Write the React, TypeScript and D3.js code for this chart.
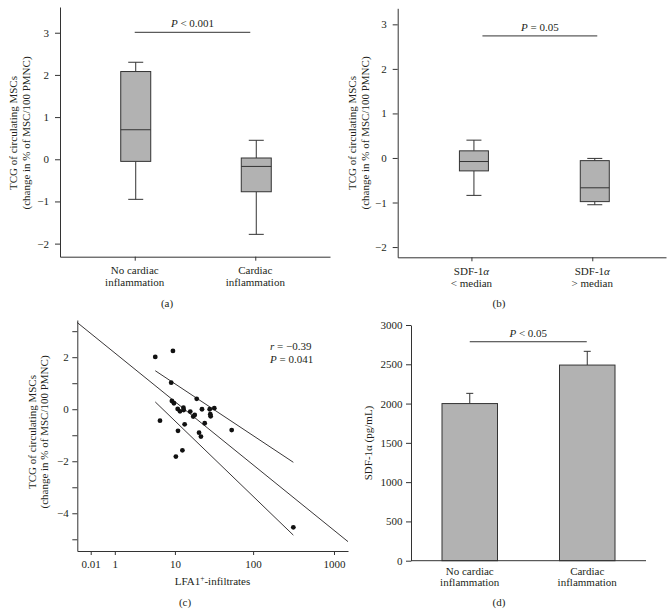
import React, { useEffect, useRef } from "react";
import * as d3 from "d3";

// ---------- Panel (a) ----------
const groupsA = ["No cardiac|inflammation", "Cardiac|inflammation"];
const whiskerLowA = [-0.95, -1.78];
const q1A = [-0.05, -0.77];
const medianA = [0.7, -0.17];
const q3A = [2.08, 0.03];
const whiskerHighA = [2.3, 0.45];
const yTicksA = [-2, -1, 0, 1, 2, 3];
const pTextA = "< 0.001";
const pLevelA = 3.01;

// ---------- Panel (b) ----------
const groupsB = ["SDF-1α|< median", "SDF-1α|> median"];
const whiskerLowB = [-0.84, -1.05];
const q1B = [-0.29, -0.98];
const medianB = [-0.08, -0.67];
const q3B = [0.16, -0.06];
const whiskerHighB = [0.4, -0.01];
const yTicksB = [-2, -1, 0, 1, 2, 3];
const pTextB = "= 0.05";
const pLevelB = 2.74;

// ---------- Panel (c) ----------
const lfaInfiltrates = [5.3, 9.4, 8.9, 9.1, 9.7, 6.2, 10.9, 11.7, 13.0, 13.1, 11.0, 13.5, 10.3, 12.6, 16.0, 17.5, 18.3, 19.4, 20.8, 22.0, 22.7, 24.6, 28.5, 29.0, 29.3, 32.6, 54.0, 315];
const tcgValues = [2.01, 2.24, 1.02, 0.32, 0.23, -0.44, 0.01, -0.08, 0.06, -0.03, -0.83, -0.58, -1.82, -1.58, -0.09, -0.28, -0.22, 0.4, -0.9, -1.05, 0.0, -0.54, 0.0, -0.19, -0.27, 0.04, -0.8, -4.54];
const xTicksC = [0.01, 1, 10, 100, 1000];
const xTickLabelsC = ["0.01", "1", "10", "100", "1000"];
const yTicksC = [-5, -4, -3, -2, -1, 0, 1, 2, 3];
const fitX = [-0.448, 1488];
const fitY = [3.33, -5.09];
const bandX = [5.3, 315];
const bandUpperY = [1.48, -2.04];
const bandLowerY = [0.28, -4.84];
const rText = "= \u22120.39";
const pTextC = "= 0.041";

// ---------- Panel (d) ----------
const groupsD = ["No cardiac|inflammation", "Cardiac|inflammation"];
const sdfMeans = [2000, 2490];
const sdfErrorTop = [2130, 2665];
const yTicksD = [0, 500, 1000, 1500, 2000, 2500, 3000];
const pTextD = "< 0.05";
const pLevelD = 2787;

const FONT = "'Liberation Serif', 'Times New Roman', Times, serif";
const INK = "#231f20";
const LINE = "#333";
const FILL = "#b2b2b2";

const fmtMinus = (d: number) => (d < 0 ? "\u2212" + Math.abs(d) : String(d));

function richText(sel: any, str: string) {
  const parts = str.split("α");
  parts.forEach((p, i) => {
    if (p) sel.append("tspan").text(p);
    if (i < parts.length - 1) sel.append("tspan").attr("font-style", "italic").text("α");
  });
}

function styleAxis(ax: any) {
  ax.attr("font-family", null).attr("font-size", null);
  ax.selectAll("path").attr("stroke", LINE);
  ax.selectAll("line").attr("stroke", LINE);
  ax.selectAll("text").attr("fill", INK);
}

export default function App() {
  const ref = useRef<SVGSVGElement>(null);

  useEffect(() => {
    const svg = d3.select(ref.current);
    svg.selectAll("*").remove();
    svg.attr("font-family", FONT).attr("font-size", 11).attr("fill", INK);

    const catLabels = (g: any, x: any, groups: string[], b1: number, b2: number) => {
      groups.forEach((gn) => {
        const [l1, l2] = gn.split("|");
        const t1 = g.append("text").attr("x", x(gn)).attr("y", b1).attr("text-anchor", "middle");
        richText(t1, l1);
        const t2 = g.append("text").attr("x", x(gn)).attr("y", b2).attr("text-anchor", "middle");
        richText(t2, l2);
      });
    };

    const yLabelTwo = (g: any, bx1: number, bx2: number, cy: number) => {
      g.append("text").attr("transform", `translate(${bx1},${cy}) rotate(-90)`).attr("text-anchor", "middle").text("TCG of circulating MSCs");
      g.append("text").attr("transform", `translate(${bx2},${cy}) rotate(-90)`).attr("text-anchor", "middle").text("(change in % of MSC/100 PMNC)");
    };

    const pAnnot = (g: any, xa: number, xb: number, yy: number, txt: string) => {
      g.append("line").attr("x1", xa).attr("x2", xb).attr("y1", yy).attr("y2", yy).attr("stroke", LINE).attr("stroke-width", 1);
      const t = g.append("text").attr("x", (xa + xb) / 2).attr("y", yy - 5).attr("text-anchor", "middle");
      t.append("tspan").attr("font-style", "italic").text("P");
      t.append("tspan").text(" " + txt);
    };

    const boxPanel = (cfg: any) => {
      const g = svg.append("g");
      const y = d3.scaleLinear().domain(cfg.domain).range([cfg.yBottom, cfg.yTop]);
      const x = d3.scalePoint<string>().domain(cfg.groups).range([cfg.x0, cfg.x1]).padding(cfg.pad);
      const ya = g.append("g").attr("transform", `translate(${cfg.x0},0)`)
        .call(d3.axisLeft(y).tickValues(cfg.ticks).tickSize(5).tickSizeOuter(0).tickPadding(6).tickFormat((d: any) => fmtMinus(d)));
      styleAxis(ya);
      const xa = g.append("g").attr("transform", `translate(0,${cfg.yBottom})`)
        .call(d3.axisBottom(x).tickSize(4).tickSizeOuter(0).tickFormat(() => ""));
      styleAxis(xa);
      cfg.groups.forEach((gn: string, i: number) => {
        const cx = (x(gn) as number) + cfg.shift;
        const hw = cfg.boxW / 2, cw = cfg.capW / 2;
        g.append("line").attr("x1", cx).attr("x2", cx).attr("y1", y(cfg.hi[i])).attr("y2", y(cfg.q3[i])).attr("stroke", LINE);
        g.append("line").attr("x1", cx - cw).attr("x2", cx + cw).attr("y1", y(cfg.hi[i])).attr("y2", y(cfg.hi[i])).attr("stroke", LINE);
        g.append("line").attr("x1", cx).attr("x2", cx).attr("y1", y(cfg.lo[i])).attr("y2", y(cfg.q1[i])).attr("stroke", LINE);
        g.append("line").attr("x1", cx - cw).attr("x2", cx + cw).attr("y1", y(cfg.lo[i])).attr("y2", y(cfg.lo[i])).attr("stroke", LINE);
        g.append("rect").attr("x", cx - hw).attr("width", cfg.boxW).attr("y", y(cfg.q3[i])).attr("height", y(cfg.q1[i]) - y(cfg.q3[i]))
          .attr("fill", FILL).attr("stroke", LINE).attr("stroke-width", 1);
        g.append("line").attr("x1", cx - hw).attr("x2", cx + hw).attr("y1", y(cfg.med[i])).attr("y2", y(cfg.med[i])).attr("stroke", LINE);
      });
      catLabels(g, x, cfg.groups, cfg.yBottom + 17.5, cfg.yBottom + 29.5);
      yLabelTwo(g, cfg.ylx1, cfg.ylx2, cfg.ylcy);
      pAnnot(g, (x(cfg.groups[0]) as number) + cfg.pOff0, (x(cfg.groups[1]) as number) + cfg.pOff1, y(cfg.pLevel), cfg.pText);
      g.append("text").attr("x", cfg.tagX).attr("y", 307).attr("text-anchor", "middle").text(cfg.tag);
    };

    boxPanel({
      domain: [-2.31, 3.61], yBottom: 256.7, yTop: 7, x0: 60, x1: 330, pad: 0.62,
      groups: groupsA, lo: whiskerLowA, q1: q1A, med: medianA, q3: q3A, hi: whiskerHighA, ticks: yTicksA,
      shift: 1, boxW: 30, capW: 15, ylx1: 17, ylx2: 29.5, ylcy: 133,
      pOff0: 0, pOff1: -5, pLevel: pLevelA, pText: pTextA, tagX: 167, tag: "(a)",
    });
    boxPanel({
      domain: [-2.23, 3.36], yBottom: 257.3, yTop: 8.3, x0: 397.7, x1: 666, pad: 0.61,
      groups: groupsB, lo: whiskerLowB, q1: q1B, med: medianB, q3: q3B, hi: whiskerHighB, ticks: yTicksB,
      shift: 2.5, boxW: 29, capW: 15, ylx1: 356, ylx2: 369, ylcy: 133,
      pOff0: 11, pOff1: 5, pLevel: pLevelB, pText: pTextB, tagX: 499, tag: "(b)",
    });

    // ---------- Panel (c) ----------
    {
      const g = svg.append("g");
      const x = d3.scaleSymlog().constant(1).domain([fitX[0], fitX[1]]).range([77.3, 348]);
      const y = d3.scaleLinear().domain([-5.45, 3.43]).range([551, 320]);
      const ya = g.append("g").attr("transform", `translate(77.3,0)`)
        .call(d3.axisLeft(y).tickValues(yTicksC).tickSize(5).tickSizeOuter(0).tickPadding(3.5)
          .tickFormat((d: any) => (d % 2 === 0 ? fmtMinus(d) : "")));
      styleAxis(ya);
      const xa = g.append("g").attr("transform", `translate(0,551)`)
        .call(d3.axisBottom(x).tickValues(xTicksC).tickSize(4).tickSizeOuter(0).tickPadding(5)
          .tickFormat((d: any, i: number) => xTickLabelsC[i]));
      styleAxis(xa);
      const lineGen = d3.line<[number, number]>().x((d) => x(d[0])).y((d) => y(d[1]));
      const seg = (xs: number[], ys: number[]) =>
        g.append("path").attr("d", lineGen(xs.map((v, i) => [v, ys[i]]) as [number, number][]))
          .attr("fill", "none").attr("stroke", INK).attr("stroke-width", 0.9);
      seg(fitX, fitY);
      seg(bandX, bandUpperY);
      seg(bandX, bandLowerY);
      g.selectAll("circle.pt").data(lfaInfiltrates).enter().append("circle")
        .attr("cx", (d: number) => x(d)).attr("cy", (d: number, i: number) => y(tcgValues[i]))
        .attr("r", 2.4).attr("fill", "#111");
      const t1 = g.append("text").attr("x", 270).attr("y", 350);
      t1.append("tspan").attr("font-style", "italic").text("r");
      t1.append("tspan").text(" " + rText);
      const t2 = g.append("text").attr("x", 270).attr("y", 363);
      t2.append("tspan").attr("font-style", "italic").text("P");
      t2.append("tspan").text(" " + pTextC);
      yLabelTwo(g, 35.5, 47.5, 432);
      const xl = g.append("text").attr("x", 212.5).attr("y", 584.5).attr("text-anchor", "middle");
      xl.append("tspan").text("LFA1");
      xl.append("tspan").attr("dy", -4).attr("font-size", 7.5).text("+");
      xl.append("tspan").attr("dy", 4).text("-infiltrates");
      g.append("text").attr("x", 185).attr("y", 606).attr("text-anchor", "middle").text("(c)");
    }

    // ---------- Panel (d) ----------
    {
      const g = svg.append("g");
      const x = d3.scalePoint<string>().domain(groupsD).range([411, 646]).padding(0.5);
      const y = d3.scaleLinear().domain([0, 3000]).range([560.7, 325]);
      const ya = g.append("g").attr("transform", `translate(411,0)`)
        .call(d3.axisLeft(y).tickValues(yTicksD).tickSize(5).tickSizeOuter(0).tickPadding(3.5).tickFormat(d3.format("d") as any));
      styleAxis(ya);
      const bw = 55.5;
      groupsD.forEach((gn, i) => {
        const cx = x(gn) as number;
        g.append("line").attr("x1", cx).attr("x2", cx).attr("y1", y(sdfMeans[i])).attr("y2", y(sdfErrorTop[i])).attr("stroke", LINE);
        g.append("line").attr("x1", cx - 3.5).attr("x2", cx + 3.5).attr("y1", y(sdfErrorTop[i])).attr("y2", y(sdfErrorTop[i])).attr("stroke", LINE);
        g.append("rect").attr("x", cx - bw / 2).attr("width", bw).attr("y", y(sdfMeans[i])).attr("height", y(0) - y(sdfMeans[i]))
          .attr("fill", FILL).attr("stroke", LINE).attr("stroke-width", 1);
      });
      g.append("line").attr("x1", 411).attr("x2", 646).attr("y1", 560.7).attr("y2", 560.7).attr("stroke", LINE);
      catLabels(g, x, groupsD, 575, 586);
      g.append("text").attr("transform", `translate(372,443) rotate(-90)`).attr("text-anchor", "middle").text("SDF-1α (pg/mL)");
      pAnnot(g, (x(groupsD[0]) as number), (x(groupsD[1]) as number) - 0.5, y(pLevelD), pTextD);
      g.append("text").attr("x", 499).attr("y", 606).attr("text-anchor", "middle").text("(d)");
    }
  }, []);

  return (
    <svg ref={ref} width={672} height={615} style={{ position: "absolute", left: 0, top: 0, background: "#fff" }} />
  );
}
